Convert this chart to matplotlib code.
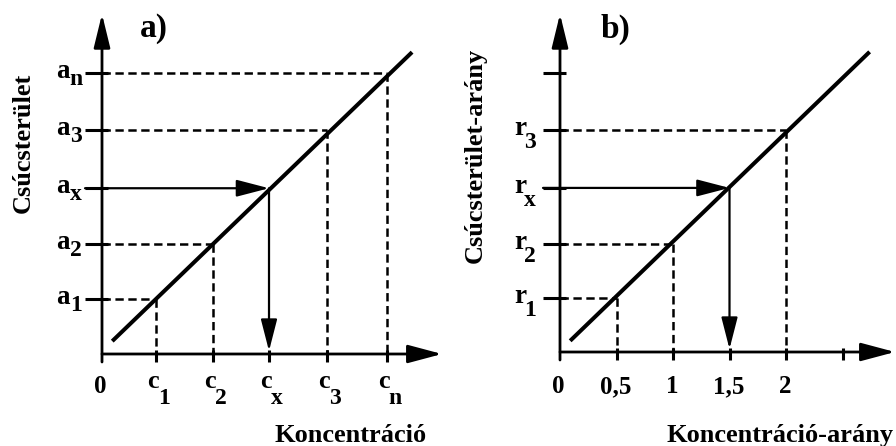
import matplotlib
matplotlib.use('Agg')
import matplotlib.pyplot as plt

plt.rcParams['font.family'] = ['Liberation Serif', 'DejaVu Serif']
plt.rcParams['font.weight'] = 'bold'
plt.rcParams['lines.scale_dashes'] = False

# panel a: peak area vs concentration
conc_a = [0.95, 1.95, 2.93, 3.95, 5.0]
conc_a_sub = ['1', '2', 'x', '3', 'n']
area_a = [0.98, 1.96, 2.96, 4.0, 5.02]
area_a_sub = ['1', '2', 'x', '3', 'n']
line_a_x = [0.18, 5.44]
line_a_y = [0.23, 5.39]

# panel b: peak area ratio vs concentration ratio
conc_b = [0.5, 1.0, 1.5, 2.0, 2.5]
conc_b_labels = ['0,5', '1', '1,5', '2', '']
ratio_b = [0.96, 1.93, 2.93, 3.96, 4.98]
ratio_b_sub = ['1', '2', 'x', '3', '']
line_b_x = [0.09, 2.74]
line_b_y = [0.2, 5.36]

unknown = 2  # index of the unknown sample (x)

W, H = 896, 446
fig = plt.figure(figsize=(W / 100, H / 100), dpi=100)

DASH = (0, (6, 3.3))


def arrow(ax, tail, tip, lw, hl=2.0, hw=0.5):
    ax.annotate('', xy=tip, xytext=tail,
                arrowprops=dict(arrowstyle='-|>,head_length=%s,head_width=%s' % (hl, hw),
                                lw=lw, color='k', shrinkA=0, shrinkB=0,
                                mutation_scale=10, joinstyle='round'),
                annotation_clip=False)


def panel(rect, x0, xu, y0, yu, tip_x, xs, ys, lx, ly, dashed_idx, xlab_fn, ylab_fn):
    ax = fig.add_axes(rect)
    left = rect[0] * W
    right = (rect[0] + rect[2]) * W
    ax.set_xlim((left - x0) / xu, (right - x0) / xu)
    ax.set_ylim((y0 - H) / yu, y0 / yu)
    ax.set_axis_off()
    px = lambda p: p / xu
    py = lambda p: p / yu

    # axes with arrow heads
    arrow(ax, (0, -py(8)), (0, (y0 - 14) / yu), lw=2.0, hl=2.05, hw=0.5)
    arrow(ax, (0, 0), ((tip_x - x0) / xu, 0), lw=2.0, hl=2.1, hw=0.56)

    # ticks
    for y in ys:
        ax.plot([-px(17), px(6)], [y, y], color='k', lw=2.2, solid_capstyle='butt')
    for x in xs:
        ax.plot([x, x], [py(4), -py(8)], color='k', lw=2.2, solid_capstyle='butt')

    # calibration line
    ax.plot(lx, ly, color='k', lw=2.9, solid_capstyle='butt')

    # dashed read-off lines
    for i in dashed_idx:
        ax.plot([0, xs[i]], [ys[i], ys[i]], color='k', lw=1.8, linestyle=DASH,
                dash_capstyle='butt')
        ax.plot([xs[i], xs[i]], [ys[i], 0], color='k', lw=1.8, linestyle=DASH,
                dash_capstyle='butt')

    # unknown sample arrows
    xu_, yu_ = xs[unknown], ys[unknown]
    arrow(ax, (-px(17), yu_), (xu_, yu_), lw=1.6, hl=2.0, hw=0.52)
    arrow(ax, (xu_, yu_), (xu_, py(3)), lw=1.6, hl=1.95, hw=0.5)

    xlab_fn(ax)
    ylab_fn(ax)
    return ax


def lab(ax, s, xy, off, size, ha='center'):
    ax.annotate(s, xy=xy, xytext=off, textcoords='offset pixels', ha=ha,
                va='baseline', fontsize=size, fontweight='bold',
                annotation_clip=False)


def xlab_a(ax):
    lab(ax, '0', (0, 0), (-2, -39), 18)
    for x, s in zip(conc_a, conc_a_sub):
        lab(ax, 'c', (x, 0), (-3, -34), 19)
        lab(ax, s, (x, 0), (8, -50), 17)


def ylab_a(ax):
    for y, s in zip(area_a, area_a_sub):
        lab(ax, 'a', (0, y), (-39, -5), 19.5)
        lab(ax, s, (0, y), (-26, -12), 17)


def xlab_b(ax):
    lab(ax, '0', (0, 0), (-2, -41), 18)
    for x, s in zip(conc_b, conc_b_labels):
        lab(ax, s, (x, 0), (-1, -41), 18)


def ylab_b(ax):
    for y, s in zip(ratio_b, ratio_b_sub):
        if s:
            lab(ax, 'r', (0, y), (-40, -5), 19.5)
            lab(ax, s, (0, y), (-30, -18), 17)


ax_a = panel([0, 0, 0.5, 1], 102, 57, 354, 56, 442, conc_a, area_a, line_a_x, line_a_y,
             [0, 1, 3, 4], xlab_a, ylab_a)
ax_b = panel([0.5, 0, 0.5, 1], 560, 113, 352, 56, 895, conc_b, ratio_b, line_b_x, line_b_y,
             [0, 1, 3], xlab_b, ylab_b)


# titles and axis names
def ftext(s, x, y, size, ha='left', va='baseline', rot=0):
    fig.text(x / W, (H - y) / H, s, fontsize=size, fontweight='bold', ha=ha, va=va,
             rotation=rot)


ftext('a)', 140, 37, 24)
ftext('b)', 601, 38, 24)
ftext('Koncentráció', 427, 442, 19, ha='right')
ftext('Koncentráció-arány', 894, 442, 19, ha='right')
ftext('Csúcsterület', 23, 143, 19, ha='center', va='center', rot=90)
ftext('Csúcsterület-arány', 475, 155, 19, ha='center', va='center', rot=90)

fig.savefig('out.png', dpi=100)
